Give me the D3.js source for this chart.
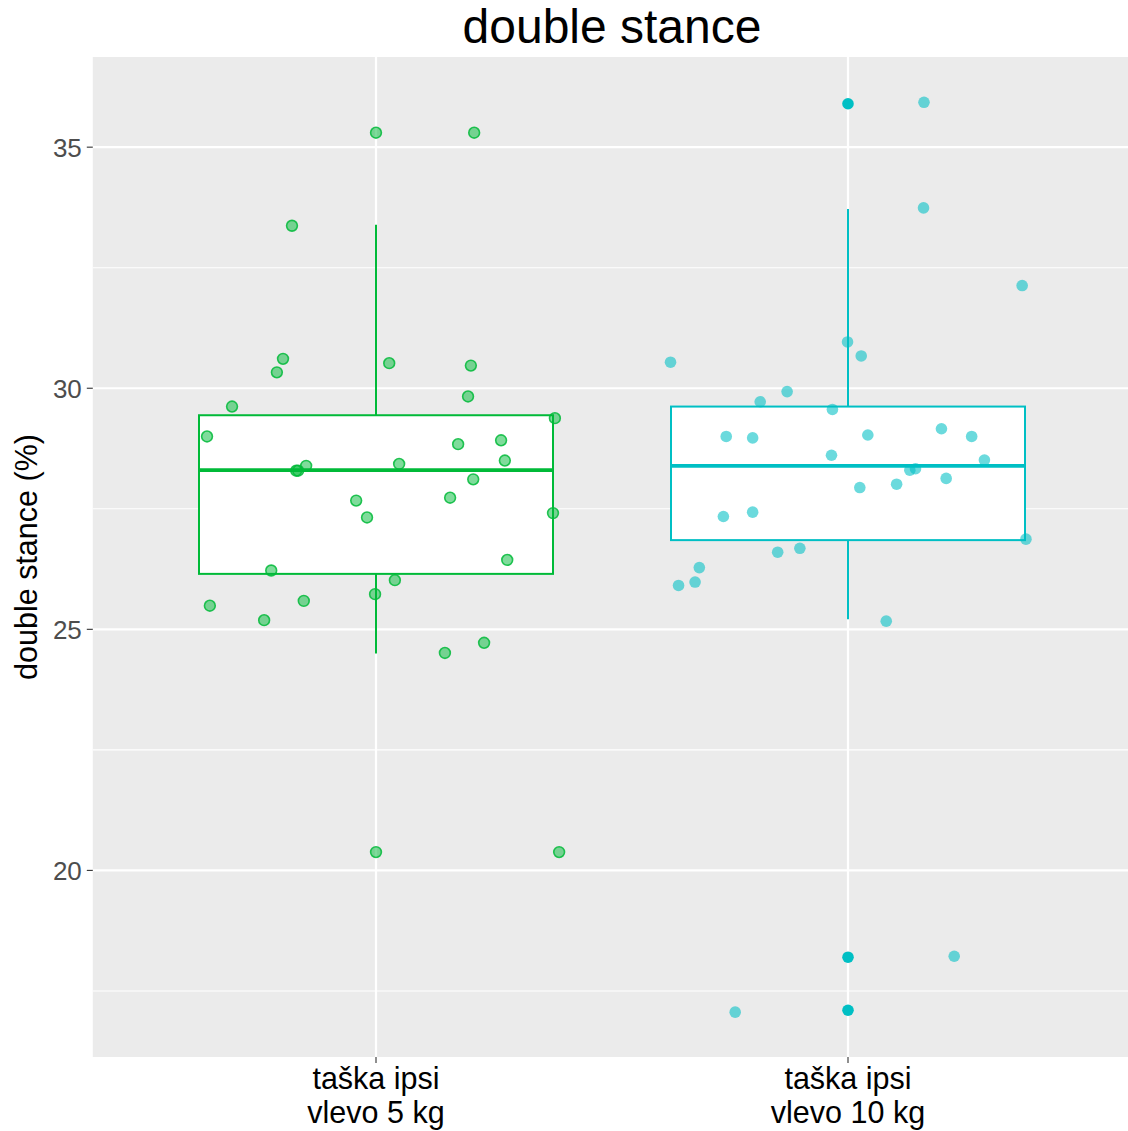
<!DOCTYPE html>
<html>
<head>
<meta charset="utf-8">
<script src="https://cdn.jsdelivr.net/npm/d3@7"></script>
<style>
  html, body { margin: 0; padding: 0; background: #fff; }
  svg { display: block; font-family: "Liberation Sans", Arial, sans-serif; }
</style>
</head>
<body>
<svg id="chart" width="1128" height="1131"></svg>
<script>
// ---------- data ----------
const title = "double stance";
const yLabel = "double stance (%)";
const categories = ["taška ipsi\nvlevo 5 kg", "taška ipsi\nvlevo 10 kg"];
const colors = ["#00BA38", "#00BFC4"];
const yTicks = [20, 25, 30, 35];
const yMinorTicks = [17.5, 22.5, 27.5, 32.5];

// box statistics: [lower whisker, q1, median, q3, upper whisker]
const box5kg = [24.50, 26.15, 28.30, 29.44, 33.39];
const box10kg = [25.21, 26.85, 28.39, 29.62, 33.72];
const outliers5kg = [];
const outliers10kg = [35.90, 18.20, 17.10];

// jittered observations (value, horizontal jitter in category units)
const values5kg = [35.30, 35.30, 33.37, 30.61, 30.33, 30.52, 30.47, 29.62, 29.83, 29.38,
  29.00, 28.29, 28.29, 28.39, 28.43, 28.84, 28.92, 28.50, 28.11, 27.73, 27.67, 27.32,
  27.41, 26.44, 26.22, 26.02, 25.73, 25.49, 25.59, 25.19, 24.72, 24.51, 20.38, 20.38];
const jitter5kg = [0, 0.208, -0.178, -0.197, -0.210, 0.028, 0.201, -0.305, 0.195, 0.379,
  -0.358, -0.169, -0.165, -0.148, 0.049, 0.174, 0.265, 0.273, 0.206, 0.157, -0.042, -0.019,
  0.375, 0.278, -0.222, 0.040, -0.002, -0.352, -0.153, -0.237, 0.229, 0.146, 0, 0.388];
const values10kg = [35.93, 33.74, 32.13, 30.96, 30.67, 30.54, 29.93, 29.72, 29.56, 29.00,
  28.97, 29.03, 29.16, 29.00, 28.61, 28.51, 28.30, 28.33, 28.13, 28.01, 27.94, 27.43,
  27.34, 26.87, 26.68, 26.60, 26.28, 25.98, 25.91, 25.17, 18.22, 17.06];
const jitter10kg = [0.161, 0.160, 0.369, -0.001, 0.028, -0.376, -0.129, -0.186, -0.033, -0.258,
  -0.202, 0.042, 0.198, 0.262, -0.035, 0.289, 0.131, 0.143, 0.208, 0.103, 0.025, -0.202,
  -0.264, 0.377, -0.102, -0.149, -0.315, -0.324, -0.359, 0.081, 0.225, -0.239];

const groups = [
  { box: box5kg, outliers: outliers5kg, values: values5kg, jitter: jitter5kg },
  { box: box10kg, outliers: outliers10kg, values: values10kg, jitter: jitter10kg }
];

// ---------- layout ----------
const panel = { left: 92.8, top: 57, right: 1131.2, bottom: 1057 };
const svg = d3.select("#chart");

const x = d3.scaleLinear().domain([0.4, 2.6]).range([panel.left, panel.right]);
const y = d3.scaleLinear().domain([16.13, 36.87]).range([panel.bottom, panel.top]);
const boxHalf = 0.375;

// panel background
svg.append("rect")
  .attr("x", panel.left).attr("y", panel.top)
  .attr("width", panel.right - panel.left).attr("height", panel.bottom - panel.top)
  .attr("fill", "#EBEBEB");

// gridlines
const grid = svg.append("g");
grid.selectAll(".minor").data(yMinorTicks).join("line")
  .attr("x1", panel.left).attr("x2", panel.right)
  .attr("y1", d => y(d)).attr("y2", d => y(d))
  .attr("stroke", "#fff").attr("stroke-width", 1.1);
grid.selectAll(".major").data(yTicks).join("line")
  .attr("x1", panel.left).attr("x2", panel.right)
  .attr("y1", d => y(d)).attr("y2", d => y(d))
  .attr("stroke", "#fff").attr("stroke-width", 2.2);
grid.selectAll(".vmajor").data(categories).join("line")
  .attr("x1", (d, i) => x(i + 1)).attr("x2", (d, i) => x(i + 1))
  .attr("y1", panel.top).attr("y2", panel.bottom)
  .attr("stroke", "#fff").attr("stroke-width", 2.2);

// boxplots
groups.forEach((g, i) => {
  const c = colors[i];
  const cx = i + 1;
  const [lo, q1, med, q3, hi] = g.box;
  const gg = svg.append("g");
  gg.append("line").attr("x1", x(cx)).attr("x2", x(cx)).attr("y1", y(hi)).attr("y2", y(q3))
    .attr("stroke", c).attr("stroke-width", 2);
  gg.append("line").attr("x1", x(cx)).attr("x2", x(cx)).attr("y1", y(q1)).attr("y2", y(lo))
    .attr("stroke", c).attr("stroke-width", 2);
  gg.append("rect")
    .attr("x", x(cx - boxHalf)).attr("y", y(q3))
    .attr("width", x(cx + boxHalf) - x(cx - boxHalf)).attr("height", y(q1) - y(q3))
    .attr("fill", "#fff").attr("stroke", c).attr("stroke-width", 2);
  gg.append("line").attr("x1", x(cx - boxHalf)).attr("x2", x(cx + boxHalf))
    .attr("y1", y(med)).attr("y2", y(med))
    .attr("stroke", c).attr("stroke-width", 3.8);
  gg.selectAll("circle.out").data(g.outliers).join("circle")
    .attr("cx", x(cx)).attr("cy", d => y(d)).attr("r", 5.8)
    .attr("fill", c);
});

// jittered points
groups.forEach((g, i) => {
  const c = colors[i];
  const pts = g.values.map((v, k) => ({ v, j: g.jitter[k] }));
  svg.append("g").selectAll("circle").data(pts).join("circle")
    .attr("cx", d => x(i + 1 + d.j)).attr("cy", d => y(d.v))
    .attr("r", i === 0 ? 5.4 : 5.8)
    .attr("fill", c).attr("fill-opacity", i === 0 ? 0.5 : 0.58)
    .attr("stroke", i === 0 ? c : "none").attr("stroke-width", 1.6)
    .attr("stroke-opacity", 0.85);
});

// y axis ticks and labels
const yAxis = svg.append("g");
yAxis.selectAll("line").data(yTicks).join("line")
  .attr("x1", panel.left - 6).attr("x2", panel.left)
  .attr("y1", d => y(d)).attr("y2", d => y(d))
  .attr("stroke", "#333").attr("stroke-width", 1.1);
yAxis.selectAll("text").data(yTicks).join("text")
  .attr("x", panel.left - 11).attr("y", d => y(d))
  .attr("dy", "0.36em").attr("text-anchor", "end")
  .attr("font-size", 26).attr("fill", "#4D4D4D")
  .text(d => d);

// x axis ticks and labels
const xAxis = svg.append("g");
xAxis.selectAll("line").data(categories).join("line")
  .attr("x1", (d, i) => x(i + 1)).attr("x2", (d, i) => x(i + 1))
  .attr("y1", panel.bottom).attr("y2", panel.bottom + 6)
  .attr("stroke", "#333").attr("stroke-width", 1.1);
xAxis.selectAll("text").data(categories).join("text")
  .attr("x", (d, i) => x(i + 1)).attr("y", 1089)
  .attr("text-anchor", "middle").attr("font-size", 30.5).attr("fill", "#000")
  .each(function (d, i) {
    const t = d3.select(this);
    d.split("\n").forEach((line, k) => {
      t.append("tspan").attr("x", x(i + 1)).attr("dy", k === 0 ? 0 : 34).text(line);
    });
  });

// y axis title
svg.append("text")
  .attr("transform", `translate(37, ${(panel.top + panel.bottom) / 2}) rotate(-90)`)
  .attr("text-anchor", "middle").attr("font-size", 30.5).attr("fill", "#000")
  .text(yLabel);

// title
svg.append("text")
  .attr("x", (panel.left + panel.right) / 2).attr("y", 43)
  .attr("text-anchor", "middle").attr("font-size", 48).attr("fill", "#000")
  .text(title);
</script>
</body>
</html>
